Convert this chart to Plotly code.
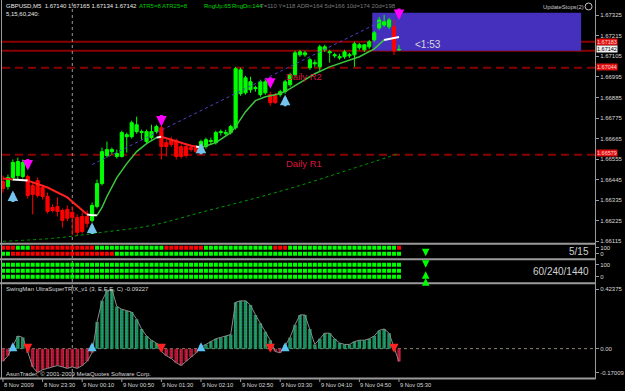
import plotly.graph_objects as go

W, H = 625, 391
ML, MR = 2, 24
PW = W - ML - MR

# ---------------- data ----------------
bar_index = list(range(81))

opens = [1.66435, 1.66408, 1.66456, 1.66467, 1.66462, 1.66462, 1.66414, 1.66440, 1.66403, 1.66355,
         1.66296, 1.66302, 1.66280, 1.66286, 1.66270, 1.66243, 1.66248, 1.66248, 1.66227, 1.66302,
         1.66424, 1.66574, 1.66595, 1.66569, 1.66569, 1.66675, 1.66675, 1.66702, 1.66697, 1.66649,
         1.66670, 1.66702, 1.66723, 1.66643, 1.66659, 1.66654, 1.66622, 1.66622, 1.66617, 1.66617,
         1.66595, 1.66622, 1.66649, 1.66643, 1.66697, 1.66691, 1.66697, 1.66723, 1.66905, 1.66910,
         1.66926, 1.66932, 1.66900, 1.66910, 1.66900, 1.66900, 1.66900, 1.66916, 1.66953, 1.67006,
         1.67113, 1.67113, 1.67044, 1.67065, 1.67049, 1.67140, 1.67124, 1.67108, 1.67097, 1.67103,
         1.67108, 1.67113, 1.67151, 1.67140, 1.67156, 1.67193, 1.67257, 1.67273, 1.67263, 1.67263,
         1.67140]
highs = [1.66467, 1.66472, 1.66553, 1.66563, 1.66553, 1.66472, 1.66435, 1.66456, 1.66419, 1.66376,
         1.66312, 1.66350, 1.66291, 1.66307, 1.66302, 1.66259, 1.66270, 1.66280, 1.66323, 1.66446,
         1.66617, 1.66649, 1.66617, 1.66606, 1.66707, 1.66697, 1.66761, 1.66782, 1.66713, 1.66713,
         1.66739, 1.66739, 1.66734, 1.66659, 1.66675, 1.66665, 1.66633, 1.66638, 1.66633, 1.66627,
         1.66659, 1.66670, 1.66670, 1.66707, 1.66713, 1.66713, 1.66739, 1.67049, 1.67044, 1.67001,
         1.66996, 1.66948, 1.66980, 1.66980, 1.66916, 1.66910, 1.66926, 1.66980, 1.67017, 1.67135,
         1.67140, 1.67135, 1.67097, 1.67087, 1.67167, 1.67167, 1.67140, 1.67124, 1.67119, 1.67140,
         1.67124, 1.67183, 1.67177, 1.67172, 1.67193, 1.67241, 1.67316, 1.67327, 1.67311, 1.67300,
         1.67165]
lows = [1.66376, 1.66392, 1.66440, 1.66446, 1.66451, 1.66344, 1.66259, 1.66350, 1.66339, 1.66264,
        1.66270, 1.66248, 1.66189, 1.66222, 1.66147, 1.66147, 1.66157, 1.66189, 1.66216, 1.66291,
        1.66414, 1.66563, 1.66579, 1.66558, 1.66563, 1.66590, 1.66665, 1.66691, 1.66659, 1.66638,
        1.66659, 1.66691, 1.66553, 1.66569, 1.66622, 1.66553, 1.66558, 1.66563, 1.66595, 1.66585,
        1.66585, 1.66611, 1.66633, 1.66633, 1.66681, 1.66681, 1.66686, 1.66713, 1.66894, 1.66900,
        1.66910, 1.66916, 1.66889, 1.66900, 1.66841, 1.66852, 1.66889, 1.66905, 1.66942, 1.66996,
        1.67103, 1.67103, 1.67033, 1.67049, 1.67023, 1.67129, 1.67071, 1.67097, 1.67087, 1.67092,
        1.67097, 1.67049, 1.67140, 1.67129, 1.67145, 1.67183, 1.67247, 1.67263, 1.67252, 1.67113,
        1.67134]
closes = [1.66398, 1.66456, 1.66537, 1.66542, 1.66537, 1.66360, 1.66366, 1.66360, 1.66355, 1.66275,
          1.66280, 1.66275, 1.66227, 1.66238, 1.66243, 1.66163, 1.66168, 1.66211, 1.66307, 1.66424,
          1.66595, 1.66606, 1.66606, 1.66585, 1.66697, 1.66686, 1.66750, 1.66739, 1.66702, 1.66702,
          1.66702, 1.66729, 1.66622, 1.66622, 1.66633, 1.66569, 1.66569, 1.66574, 1.66606, 1.66595,
          1.66649, 1.66659, 1.66654, 1.66697, 1.66702, 1.66697, 1.66729, 1.67039, 1.67033, 1.66990,
          1.66969, 1.66937, 1.66969, 1.66969, 1.66857, 1.66857, 1.66916, 1.66969, 1.67006, 1.67124,
          1.67129, 1.67124, 1.67087, 1.67071, 1.67156, 1.67156, 1.67129, 1.67113, 1.67103, 1.67129,
          1.67113, 1.67172, 1.67167, 1.67167, 1.67183, 1.67231, 1.67300, 1.67290, 1.67300, 1.67135,
          1.67142]

price_ticks = [1.66115, 1.66225, 1.66335, 1.66445, 1.66555, 1.66665,
               1.66775, 1.66885, 1.66995, 1.67105, 1.67215, 1.67325]

ma_fast_bars = [0, 2, 5, 9, 13, 15, 17, 18, 19, 20, 21, 23, 25, 27, 29, 31, 32, 35, 38,
                39, 40, 43, 46, 47, 49, 51, 53, 55, 57, 59, 61, 63, 66, 69, 72, 75, 77, 80]
ma_fast_vals = [1.66451, 1.66446, 1.66440, 1.66403, 1.66350, 1.66307, 1.66259, 1.66254, 1.66254,
                1.66296, 1.66355, 1.66456, 1.66531, 1.66595, 1.66638, 1.66670, 1.66675, 1.66649,
                1.66627, 1.66622, 1.66617, 1.66643, 1.66697, 1.66729, 1.66809, 1.66868, 1.66889,
                1.66900, 1.66916, 1.66948, 1.66980, 1.67012, 1.67049, 1.67076, 1.67103, 1.67145,
                1.67193, 1.67209]
ma_fast_colors = "RWRRRRWW" + "GGGGGGG" + "W" + "RRR" + "W" + "GGGGGGGGGGGGGGGG" + "W"

ma_slow_bars = [0, 10, 20, 30, 40, 50, 60, 70, 80]
ma_slow_vals = [1.66115, 1.66131, 1.66163, 1.66200, 1.66270, 1.66339, 1.66414, 1.66499, 1.66585]

trend_bars = [18, 77]
trend_vals = [1.66526, 1.67300]

zone_bars = [74.6, 116.8]
zone_prices = [1.67135, 1.67338]

solid_levels = [1.67183, 1.67135]
pivot_names = ["Daily R2", "Daily R1"]
pivot_prices = [1.67044, 1.66579]
pivot_label_bar = 56.8

buy_arrow_bars = [2, 18, 40, 57]
buy_arrow_prices = [1.66387, 1.66216, 1.66643, 1.66900]
sell_arrow_bars = [5, 32, 54, 80]
sell_arrow_prices = [1.66494, 1.66729, 1.66932, 1.67300]

day_separator_bar = 14

row_5_15_a = [("R", 3), ("G", 3), ("R", 13), ("G", 14), ("R", 8), ("G", 14), ("R", 3), ("G", 22), ("R", 1)]
row_5_15_b = [("G", 2), ("R", 21), ("G", 58)]
rows_60_240_1440 = [[("G", 81)], [("G", 81)], [("G", 81)]]

trix_vals = [-0.09, -0.05, 0.02, 0.09, 0.08, -0.03, -0.13, -0.17009, -0.15, -0.14,
             -0.13, -0.12, -0.13, -0.14, -0.13, -0.14, -0.12, -0.09, -0.03, 0.19,
             0.34, 0.41, 0.42375, 0.30, 0.28, 0.27, 0.26, 0.21, 0.14, 0.09,
             0.06, 0.04, -0.02, -0.05, -0.07, -0.10, -0.12, -0.09, -0.06, -0.03,
             0.01, 0.03, 0.05, 0.07, 0.08, 0.09, 0.10, 0.33, 0.34, 0.34,
             0.31, 0.24, 0.18, 0.12, 0.06, -0.02, -0.03, 0.02, 0.08, 0.17,
             0.24, 0.24, 0.14, 0.03, 0.07, 0.11, 0.11, 0.07, 0.04, 0.03,
             0.03, 0.05, 0.06, 0.06, 0.07, 0.09, 0.13, 0.14, 0.11, 0.01,
             -0.09227]
trix_up_bars = [2, 18, 40, 57]
trix_dn_bars = [5, 32, 54, 79]

sig_bar = 85.4
sig_panel2 = [("down", -40)]
sig_panel3 = [("down", 75), ("up", 46), ("up", -12)]

time_tick_bars = [0, 8, 16, 24, 32, 40, 48, 56, 64, 72, 80]
time_tick_labels = ["8 Nov 2009", "8 Nov 23:30", "9 Nov 00:10", "9 Nov 00:50", "9 Nov 01:30",
                    "9 Nov 02:10", "9 Nov 02:50", "9 Nov 03:30", "9 Nov 04:10", "9 Nov 04:50",
                    "9 Nov 05:30"]

# ---------------- helpers ----------------
FONT = "Liberation Sans"


def px_x(px):
    return (px - ML) / PW


def px_y(py):
    return 1 - py / H


def dom(top, bot):
    return [1 - bot / H, 1 - top / H]


XR = [-0.2, -0.2 + PW / 5.0]

fig = go.Figure()
NH = dict(hoverinfo="skip", showlegend=False)

# slow MA and trendline
fig.add_trace(go.Scatter(x=ma_slow_bars, y=ma_slow_vals, mode="lines",
                         line=dict(color="#009a00", width=1, dash="dot", shape="spline"),
                         xaxis="x", yaxis="y", **NH))
fig.add_trace(go.Scatter(x=trend_bars, y=trend_vals, mode="lines",
                         line=dict(color="#5a3cd0", width=1, dash="dot"),
                         xaxis="x", yaxis="y", **NH))

# candles
fig.add_trace(go.Candlestick(
    x=bar_index, open=opens, high=highs, low=lows, close=closes,
    increasing=dict(line=dict(color="#00ff00", width=1), fillcolor="#00ff00"),
    decreasing=dict(line=dict(color="#ff0000", width=1), fillcolor="#ff0000"),
    whiskerwidth=0, xaxis="x", yaxis="y", hoverinfo="skip", showlegend=False))

# fast MA, coloured by segment
cmap = {"R": ("#ff2020", 2), "G": ("#3cc83c", 1.5), "W": ("#ffffff", 2)}
i = 0
while i < len(ma_fast_colors):
    j = i
    while j < len(ma_fast_colors) and ma_fast_colors[j] == ma_fast_colors[i]:
        j += 1
    c, w = cmap[ma_fast_colors[i]]
    fig.add_trace(go.Scatter(x=ma_fast_bars[i:j + 1], y=ma_fast_vals[i:j + 1], mode="lines",
                             line=dict(color=c, width=w), xaxis="x", yaxis="y", **NH))
    i = j


# square rows
def expand(runs):
    out = []
    for c, n in runs:
        out += [c] * n
    return out


sq_col = {"R": "#ff0000", "G": "#00ff00"}
for level, runs in zip([100, 0], [row_5_15_a, row_5_15_b]):
    fig.add_trace(go.Scatter(x=bar_index, y=[level] * 81, mode="markers",
                             marker=dict(symbol="square", size=4,
                                         color=[sq_col[c] for c in expand(runs)], line=dict(width=0)),
                             xaxis="x2", yaxis="y2", **NH))
for level, runs in zip([100, 50, 0], rows_60_240_1440):
    fig.add_trace(go.Scatter(x=bar_index, y=[level] * 81, mode="markers",
                             marker=dict(symbol="square", size=4,
                                         color=[sq_col[c] for c in expand(runs)], line=dict(width=0)),
                             xaxis="x3", yaxis="y3", **NH))

# TRIX histogram
pos = [v if v >= 0 else None for v in trix_vals]
neg = [v if v < 0 else None for v in trix_vals]
fig.add_trace(go.Bar(x=bar_index, y=pos, width=0.7,
                     marker=dict(color="#128a40", line=dict(width=0),
                                 pattern=dict(shape=".", fgcolor="#4aa8d8", size=3, solidity=0.45)),
                     xaxis="x4", yaxis="y4", **NH))
fig.add_trace(go.Bar(x=bar_index, y=neg, width=0.7,
                     marker=dict(color="#a0102e", line=dict(width=0),
                                 pattern=dict(shape=".", fgcolor="#ff3a5a", size=3, solidity=0.45)),
                     xaxis="x4", yaxis="y4", **NH))
fig.add_trace(go.Scatter(x=bar_index, y=trix_vals, mode="lines",
                         line=dict(color="#8a8a8a", width=1), xaxis="x4", yaxis="y4", **NH))

# ---------------- shapes ----------------
shapes = []
shapes.append(dict(type="rect", xref="x", yref="y", x0=zone_bars[0], x1=zone_bars[1],
                   y0=zone_prices[0], y1=zone_prices[1], fillcolor="#4430bc",
                   line=dict(width=0), layer="below"))
for p in solid_levels:
    shapes.append(dict(type="line", xref="paper", yref="y", x0=0, x1=1, y0=p, y1=p,
                       line=dict(color="#8a0000", width=2), layer="below"))
for p in pivot_prices:
    shapes.append(dict(type="line", xref="paper", yref="y", x0=0, x1=1, y0=p, y1=p,
                       line=dict(color="#8a0000", width=2, dash="8px,5px"), layer="below"))
shapes.append(dict(type="line", xref="x", yref="paper", x0=day_separator_bar, x1=day_separator_bar,
                   y0=px_y(379), y1=px_y(2), line=dict(color="#9a9a9a", width=1, dash="dot"),
                   layer="below"))
shapes.append(dict(type="line", xref="paper", yref="y4", x0=0, x1=1, y0=0, y1=0,
                   line=dict(color="#8c8470", width=1, dash="dot"), layer="below"))
for py in [244.5, 260, 284, 379.5]:
    shapes.append(dict(type="line", xref="paper", yref="paper", x0=px_x(0), x1=px_x(601.5),
                       y0=px_y(py), y1=px_y(py), line=dict(color="#9a9a9a", width=2)))
for pxv in [1.5, 601.5]:
    shapes.append(dict(type="line", xref="paper", yref="paper", x0=px_x(pxv), x1=px_x(pxv),
                       y0=px_y(380), y1=px_y(0), line=dict(color="#9a9a9a", width=1)))
for b in time_tick_bars:
    shapes.append(dict(type="line", xref="x4", yref="paper", x0=b, x1=b,
                       y0=px_y(383), y1=px_y(380), line=dict(color="#9a9a9a", width=1)))
shapes.append(dict(type="circle", xref="paper", yref="paper", x0=px_x(591), x1=px_x(598),
                   y0=px_y(10), y1=px_y(3), line=dict(color="#c8c8c8", width=1)))

# ---------------- annotations ----------------
ann = []


def txt(x, y, s, color="#e0e0e0", size=6, xanchor="left"):
    ann.append(dict(x=px_x(x), y=px_y(y), xref="paper", yref="paper", text=s, showarrow=False,
                    xanchor=xanchor, yanchor="middle",
                    font=dict(family=FONT, size=size, color=color)))


txt(4, 6, "GBPUSD,M5  1.67140 1.67165 1.67134 1.67142", "#e8e8e8")
txt(4, 14, "5,15,60,240:", "#e8e8e8")
txt(138, 6, "ATR5=8 ATR25=8", "#00c800")
txt(204, 6, "RngUp:65", "#00dd00")
txt(232, 6, "RngDn:144", "#00dd00")
txt(261, 6, "T=110 Y=118 ADR=164 5d=166 10d=174 20d=198", "#7a7a7a")
txt(546, 7, "UpdateStops(2)", "#c8c8c8", 5.8)
txt(417, 45, "&lt;1:53", "#d8d8d8", 10)
txt(597, 252, "5/15", "#d0d0d0", 10, "right")
txt(597, 272, "60/240/1440", "#d0d0d0", 10, "right")
txt(4, 290, "SwingMan UltraSuperTRIX_v1 (3, E,E,E, C) -0.09227", "#d8d8d8")
txt(4, 375, "AsunTrader, © 2001-2009 MetaQuotes Software Corp.", "#d8d8d8")

for name, p in zip(pivot_names, pivot_prices):
    ann.append(dict(x=pivot_label_bar, y=p, xref="x", yref="y", text=name, showarrow=False,
                    xanchor="left", yanchor="top", yshift=-1,
                    font=dict(family=FONT, size=9.5, color="#dc143c")))

for b, lab in zip(time_tick_bars, time_tick_labels):
    ann.append(dict(x=b, y=px_y(386), xref="x4", yref="paper", text=lab, showarrow=False,
                    xanchor="left", yanchor="middle", xshift=-1,
                    font=dict(family=FONT, size=5.8, color="#d8d8d8")))

# price boxes on the right scale
for p, bg, fg, ys in [(solid_levels[0], "#e01010", "#ffd0d0", 0), (closes[-1], "#f0f0f0", "#000000", 0),
                      (pivot_prices[0], "#e01010", "#ffd0d0", 1), (pivot_prices[1], "#e01010", "#ffd0d0", 2)]:
    ann.append(dict(x=px_x(602), y=p, xref="paper", yref="y", text=f"{p:.5f}", showarrow=False,
                    xanchor="left", yanchor="middle", bgcolor=bg, borderpad=0, yshift=ys,
                    font=dict(family=FONT, size=5.5, color=fg)))


def arrow(x, y, xref, yref, up, color, size=0.7, width=3, length=13):
    ann.append(dict(x=x, y=y, xref=xref, yref=yref, text="", showarrow=True, ax=0,
                    ay=length if up else -length, arrowhead=2, arrowsize=size,
                    arrowwidth=width, arrowcolor=color, standoff=0))


for b, p in zip(buy_arrow_bars, buy_arrow_prices):
    arrow(b, p, "x", "y", True, "#74c4ee")
for b, p in zip(sell_arrow_bars, sell_arrow_prices):
    arrow(b, p, "x", "y", False, "#ff00ff")
for b in trix_up_bars:
    arrow(b, 0.045, "x4", "y4", True, "#5cc4f2", 0.6, 3, 10)
for b in trix_dn_bars:
    arrow(b, -0.03, "x4", "y4", False, "#ff2020", 0.6, 3, 10)
for d, v in sig_panel2:
    arrow(sig_bar, v, "x2", "y2", d == "up", "#00ff00", 1.0, 1.5, 6)
for d, v in sig_panel3:
    arrow(sig_bar, v, "x3", "y3", d == "up", "#00ff00", 1.0, 1.5, 6)

# ---------------- layout ----------------
tickfont = dict(family=FONT, size=6, color="#d8d8d8")
xcommon = dict(range=XR, visible=False, fixedrange=True, domain=[0, 1])
ycommon = dict(side="right", showgrid=False, zeroline=False, ticks="outside", ticklen=3,
               tickcolor="#9a9a9a", tickfont=tickfont, tickmode="array", fixedrange=True)

fig.update_layout(
    width=W, height=H, margin=dict(l=ML, r=MR, t=0, b=0),
    paper_bgcolor="black", plot_bgcolor="black", showlegend=False,
    barmode="overlay", boxgap=0.2, boxgroupgap=0.2,
    xaxis=dict(xcommon, anchor="y", rangeslider=dict(visible=False)),
    xaxis2=dict(xcommon, anchor="y2"),
    xaxis3=dict(xcommon, anchor="y3"),
    xaxis4=dict(xcommon, anchor="y4"),
    yaxis=dict(ycommon, anchor="x", domain=dom(2, 244), range=[1.66104, 1.67396],
               tickvals=price_ticks, ticktext=[f"{v:.5f}" for v in price_ticks]),
    yaxis2=dict(ycommon, anchor="x2", domain=dom(245, 259), range=[-75, 158.3],
                tickvals=[100, 0], ticktext=["100", "0"]),
    yaxis3=dict(ycommon, anchor="x3", domain=dom(261, 283), range=[-45.8, 137.5],
                tickvals=[100, 0], ticktext=["100", "0"]),
    yaxis4=dict(ycommon, anchor="x4", domain=dom(285, 379), range=[-0.209, 0.458],
                tickvals=[0.42375, 0, -0.17009], ticktext=["0.42375", "0.00", "-0.17009"]),
    shapes=shapes, annotations=ann,
)

fig.write_html("out.html")
